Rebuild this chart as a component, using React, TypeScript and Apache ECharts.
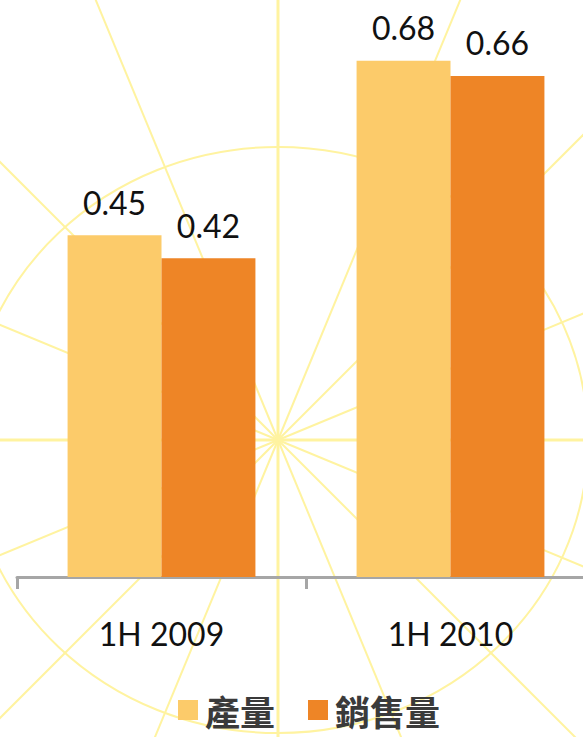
import React, { useEffect, useRef } from "react";
import * as echarts from "echarts";

const categories = ["1H 2009", "1H 2010"];
const seriesNames = ["產量", "銷售量"];
const production = [0.45, 0.68];
const sales = [0.42, 0.66];
const colors = ["#FCCB6A", "#EE8526"];

function buildBackground() {
  const cx = 278;
  const cy = 440;
  const els: any[] = [];
  const stroke = "#FFF3A0";
  for (let i = 0; i < 16; i++) {
    const a = (i * 22.5 * Math.PI) / 180;
    els.push({
      type: "line",
      silent: true,
      z: 0,
      shape: { x1: cx, y1: cy, x2: cx + 900 * Math.cos(a), y2: cy - 900 * Math.sin(a) },
      style: { stroke, lineWidth: i % 4 === 0 ? 3 : 2 },
    });
  }
  els.push({
    type: "ellipse",
    silent: true,
    z: 0,
    shape: { cx, cy, rx: 310, ry: 293 },
    style: { fill: "none", stroke, lineWidth: 2 },
  });
  return els;
}

export default function App() {
  const ref = useRef<HTMLDivElement>(null);
  useEffect(() => {
    document.body.style.margin = "0";
    if (!ref.current) return;
    const chart = echarts.init(ref.current, null, { renderer: "svg" });
    const labelStyle = {
      show: true,
      position: "top" as const,
      distance: 17,
      fontSize: 32,
      fontFamily: "Lato",
      color: "#111111",
      formatter: (p: any) => p.value.toFixed(2),
    };
    chart.setOption({
      animation: false,
      backgroundColor: "#ffffff",
      graphic: buildBackground(),
      grid: { left: 17, right: 5, top: 0, bottom: 160, containLabel: false },
      legend: {
        bottom: 4,
        left: 173,
        icon: "rect",
        itemWidth: 20,
        itemHeight: 20,
        itemGap: 33,
        textStyle: {
          fontSize: 35,
          lineHeight: 36,
          fontWeight: "bold",
          color: "#3a3a3a",
          fontFamily: "Noto Sans CJK TC",
          padding: [0, 0, 0, 2],
        },
        data: seriesNames,
      },
      xAxis: {
        type: "category",
        data: categories,
        axisLine: { show: true, lineStyle: { color: "#a6a6a6", width: 3 } },
        axisTick: { show: true, length: 12, lineStyle: { color: "#a6a6a6", width: 3 } },
        axisLabel: { fontSize: 32, fontFamily: "Lato", color: "#111111", margin: 40 },
      },
      yAxis: { type: "value", min: 0, max: 0.76, show: false, splitLine: { show: false } },
      series: [
        {
          name: seriesNames[0],
          type: "bar",
          data: production,
          itemStyle: { color: colors[0] },
          barGap: "0%",
          barCategoryGap: "35%",
          label: labelStyle,
          z: 3,
        },
        {
          name: seriesNames[1],
          type: "bar",
          data: sales,
          itemStyle: { color: colors[1] },
          barGap: "0%",
          barCategoryGap: "35%",
          label: labelStyle,
          z: 3,
        },
      ],
    });
    return () => chart.dispose();
  }, []);
  return (
    <div style={{ width: 583, height: 737, overflow: "hidden", position: "relative" }}>
      <div ref={ref} style={{ width: 600, height: 737 }} />
    </div>
  );
}
